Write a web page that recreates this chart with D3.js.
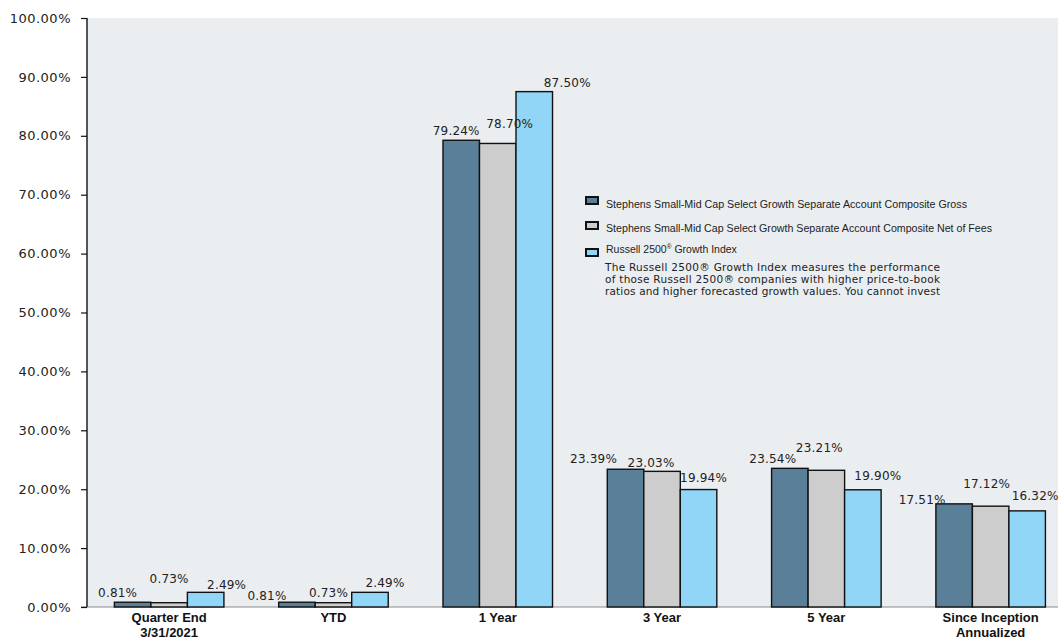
<!DOCTYPE html>
<html>
<head>
<meta charset="utf-8">
<script src="https://cdn.jsdelivr.net/npm/d3@7"></script>
<style>
  body { margin: 0; background: #fff; }
  svg { display: block; }
</style>
</head>
<body>
<div id="chart"></div>
<script>
// data
const categories = [['Quarter End', '3/31/2021'], ['YTD'], ['1 Year'], ['3 Year'], ['5 Year'], ['Since Inception', 'Annualized']];
const seriesKeys = ['gross', 'net', 'index'];
const gross = [0.81, 0.81, 79.24, 23.39, 23.54, 17.51];
const net = [0.73, 0.73, 78.70, 23.03, 23.21, 17.12];
const indexVals = [2.49, 2.49, 87.50, 19.94, 19.90, 16.32];
const yTicks = [0, 10, 20, 30, 40, 50, 60, 70, 80, 90, 100];
const legendLabels = [
  'Stephens Small-Mid Cap Select Growth Separate Account Composite Gross',
  'Stephens Small-Mid Cap Select Growth Separate Account Composite Net of Fees',
  'Russell 2500'
];
const indexNote = [
  'The Russell 2500® Growth Index measures the performance',
  'of those Russell 2500® companies with higher price-to-book',
  'ratios and higher forecasted growth values. You cannot invest'
];

// label nudges (the source chart places value labels unevenly)
const labelNudge = [
  [[-15, -5], [0, -20], [21, -3]],
  [[-30, -2], [-5, -6], [15, -5]],
  [[-5, -5], [12, -15], [33, -5]],
  [[-32, -6], [-11, -4], [5, -8]],
  [[-17, -5], [-7, -18], [15, -10]],
  [[-32, 0], [-4, -18], [8, -11]]
];

const colors = { gross: '#5a7f99', net: '#cdcdcd', index: '#91d6f6' };
const values = { gross: gross, net: net, index: indexVals };

const width = 1058, height = 638;
const plotLeft = 87, plotTop = 18, plotBottom = 607;
const step = 164.3;

const svg = d3.select('#chart').append('svg')
  .attr('width', width)
  .attr('height', height);

svg.append('rect')
  .attr('x', plotLeft).attr('y', plotTop)
  .attr('width', width - plotLeft).attr('height', plotBottom - plotTop)
  .attr('fill', '#ebeef1');

const x0 = d3.scaleBand()
  .domain(d3.range(categories.length))
  .range([plotLeft, plotLeft + step * categories.length])
  .padding(0);

const x1 = d3.scaleBand()
  .domain(seriesKeys)
  .range([0, x0.bandwidth()])
  .paddingInner(0)
  .paddingOuter(0.75);

const y = d3.scaleLinear().domain([0, 100]).range([plotBottom, plotTop]);

// bottom baseline
svg.append('line')
  .attr('x1', plotLeft - 6).attr('x2', width)
  .attr('y1', plotBottom).attr('y2', plotBottom)
  .attr('stroke', '#8a8a8a').attr('stroke-width', 1.2);

// bars
const groups = svg.append('g')
  .selectAll('g')
  .data(categories)
  .join('g')
  .attr('transform', (d, i) => `translate(${x0(i)},0)`);

groups.selectAll('rect')
  .data((d, i) => seriesKeys.map(k => ({ key: k, value: values[k][i], i })))
  .join('rect')
  .attr('x', d => x1(d.key))
  .attr('y', d => y(d.value))
  .attr('width', x1.bandwidth())
  .attr('height', d => y(0) - y(d.value))
  .attr('fill', d => colors[d.key])
  .attr('stroke', '#111')
  .attr('stroke-width', 1.4);

groups.selectAll('text.val')
  .data((d, i) => seriesKeys.map((k, s) => ({ key: k, value: values[k][i], nudge: labelNudge[i][s] })))
  .join('text')
  .attr('class', 'val')
  .attr('x', d => x1(d.key) + x1.bandwidth() / 2 + d.nudge[0])
  .attr('y', d => y(d.value) + d.nudge[1])
  .attr('text-anchor', 'middle')
  .attr('font-family', 'DejaVu Sans, Verdana, sans-serif')
  .attr('font-size', 12)
  .attr('letter-spacing', 0.2)
  .attr('fill', '#222')
  .text(d => d.value.toFixed(2) + '%');

// category labels
const catText = svg.append('g')
  .selectAll('text')
  .data(categories)
  .join('text')
  .attr('x', (d, i) => x0(i) + x0.bandwidth() / 2)
  .attr('y', 622)
  .attr('text-anchor', 'middle')
  .attr('font-family', 'Liberation Sans, Arial, sans-serif')
  .attr('font-weight', 'bold')
  .attr('font-size', 13)
  .attr('fill', '#111');

catText.selectAll('tspan')
  .data(d => d)
  .join('tspan')
  .attr('x', function () { return this.parentNode.getAttribute('x'); })
  .attr('dy', (d, j) => j === 0 ? 0 : 15)
  .text(d => d);

// y axis
const yAxis = svg.append('g')
  .attr('transform', `translate(${plotLeft},0)`)
  .call(d3.axisLeft(y).tickValues(yTicks).tickSize(6).tickPadding(10)
    .tickFormat(d => d.toFixed(2) + '%'));

yAxis.select('.domain').attr('stroke', '#111').attr('stroke-width', 1.4).attr('d', `M0,${plotTop}V${plotBottom}`);
yAxis.selectAll('.tick line').attr('stroke', '#111').attr('stroke-width', 1.2);
yAxis.selectAll('.tick text')
  .attr('font-family', 'DejaVu Sans, Verdana, sans-serif')
  .attr('font-size', 13)
  .attr('letter-spacing', 0.5)
  .attr('fill', '#222');

// legend
const legend = svg.append('g');
const swatchY = [197, 222, 249];
const textY = [208, 232, 253];
const textLen = [361, 386, null];

seriesKeys.forEach((k, s) => {
  legend.append('rect')
    .attr('x', 586).attr('y', swatchY[s])
    .attr('width', 12).attr('height', 7)
    .attr('fill', colors[k])
    .attr('stroke', '#111')
    .attr('stroke-width', 2);
  const t = legend.append('text')
    .attr('x', 606).attr('y', textY[s])
    .attr('font-family', 'Liberation Sans, Arial, sans-serif')
    .attr('font-size', 10.5)
    .attr('fill', '#222')
    .text(legendLabels[s]);
  if (textLen[s]) t.attr('textLength', textLen[s]).attr('lengthAdjust', 'spacingAndGlyphs');
  if (k === 'index') {
    t.append('tspan').attr('font-size', 6.5).attr('dy', -4).text('®');
    t.append('tspan').attr('dy', 4).text(' Growth Index');
  }
});

legend.selectAll('text.note')
  .data(indexNote)
  .join('text')
  .attr('class', 'note')
  .attr('x', 605)
  .attr('y', (d, i) => 271 + i * 12.2)
  .attr('font-family', 'DejaVu Sans, Verdana, sans-serif')
  .attr('font-size', 10.5)
  .attr('fill', '#222')
  .attr('textLength', 335)
  .attr('lengthAdjust', 'spacing')
  .text(d => d);
</script>
</body>
</html>
